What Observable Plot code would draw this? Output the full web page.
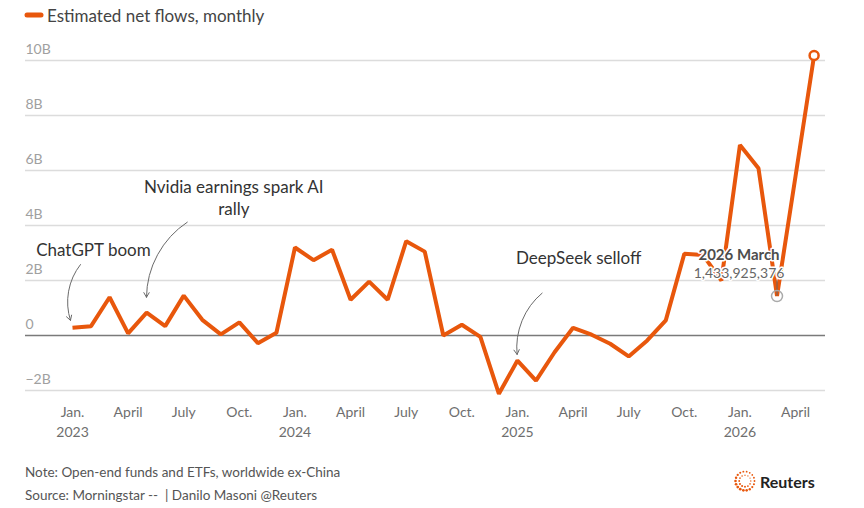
<!DOCTYPE html>
<html>
<head>
<meta charset="utf-8">
<script src="https://cdn.jsdelivr.net/npm/d3@7"></script>
<script src="https://cdn.jsdelivr.net/npm/@observablehq/plot@0.6"></script>
<style>
  body { margin: 0; background: #fff; font-family: Lato, "Noto Sans", sans-serif; }
  #legend, #chart, #footer { width: 864px; }
  svg { display: block; }
</style>
</head>
<body>
<div id="legend"></div>
<div id="chart"></div>
<div id="footer"></div>
<script>
// Monthly estimated net flows, in billions of dollars
const months = [
  "2023-01","2023-02","2023-03","2023-04","2023-05","2023-06","2023-07","2023-08","2023-09","2023-10","2023-11","2023-12",
  "2024-01","2024-02","2024-03","2024-04","2024-05","2024-06","2024-07","2024-08","2024-09","2024-10","2024-11","2024-12",
  "2025-01","2025-02","2025-03","2025-04","2025-05","2025-06","2025-07","2025-08","2025-09","2025-10","2025-11","2025-12",
  "2026-01","2026-02","2026-03","2026-04","2026-05"
];
const flows = [
  0.28, 0.34, 1.39, 0.08, 0.83, 0.34, 1.45, 0.57, 0.04, 0.48, -0.28, 0.10,
  3.20, 2.74, 3.12, 1.30, 1.96, 1.30, 3.43, 3.05, 0.00, 0.39, -0.05, -2.12,
  -0.91, -1.64, -0.61, 0.28, 0.03, -0.30, -0.76, -0.18, 0.55, 2.97, 2.93, 2.00,
  6.93, 6.08, 1.433925376, 5.80, 10.18
];

// Axis ticks
const yTicks = [-2, 0, 2, 4, 6, 8, 10];
const yTickLabels = ["\u22122B", "0", "2B", "4B", "6B", "8B", "10B"];
const xTickMonths = ["2023-01","2023-04","2023-07","2023-10","2024-01","2024-04","2024-07","2024-10",
                     "2025-01","2025-04","2025-07","2025-10","2026-01","2026-04"];
const xTickLabels = ["Jan.\n2023","April","July","Oct.","Jan.\n2024","April","July","Oct.",
                     "Jan.\n2025","April","July","Oct.","Jan.\n2026","April"];

// Highlighted month
const highlightMonth = "2026-03";

// Event annotations (x in months since Jan. 2023, y in billions)
const notes = [
  { label: "ChatGPT boom", m: 1.13, v: 3.16 },
  { label: "Nvidia earnings spark AI\nrally", m: 8.7, v: 5.05 },
  { label: "DeepSeek selloff", m: 27.3, v: 2.84 }
];
const arrows = [
  { m1: 0.43, v1: 2.58, m2: -0.11, v2: 0.55 },
  { m1: 6.19, v1: 4.12, m2: 3.99, v2: 1.39 },
  { m1: 25.33, v1: 1.54, m2: 23.98, v2: -0.69 }
];

const monthNames = ["January","February","March","April","May","June","July","August","September","October","November","December"];
const orange = "#e8570c";
const font = "Lato, 'Noto Sans', sans-serif";

const data = months.map((month, i) => ({ i, month, value: flows[i] }));
const tickIndex = xTickMonths.map(m => months.indexOf(m));
const tickLabelByIndex = new Map(tickIndex.map((t, k) => [t, xTickLabels[k]]));
const yLabelByTick = new Map(yTicks.map((t, k) => [t, yTickLabels[k]]));
const hover = data.find(d => d.month === highlightMonth);
const hoverTitle = d => { const [y, m] = d.month.split("-"); return `${y} ${monthNames[+m - 1]}`; };
const fmt = d3.format(",");

// Legend
const legend = d3.select("#legend").append("svg").attr("width", 864).attr("height", 30);
legend.append("line").attr("x1", 27).attr("x2", 41).attr("y1", 15).attr("y2", 15)
  .attr("stroke", orange).attr("stroke-width", 5).attr("stroke-linecap", "round");
legend.append("text").attr("x", 47).attr("y", 15).attr("dominant-baseline", "central")
  .attr("font-family", font).attr("font-size", 17).attr("fill", "#444")
  .text("Estimated net flows, monthly");

// Chart
const chart = Plot.plot({
  width: 864,
  height: 420,
  marginLeft: 25,
  marginRight: 39,
  marginTop: 20,
  marginBottom: 48,
  style: { fontFamily: font, background: "transparent" },
  x: { type: "linear", domain: [0, months.length - 1], range: [72, 813.6], axis: null },
  y: { domain: [-2, 10], range: [360, 30], axis: null },
  marks: [
    Plot.ruleY(yTicks.filter(d => d !== 0), { stroke: "#dcdcdc", strokeWidth: 1.5 }),
    Plot.ruleY([0], { stroke: "#7a7a7a", strokeWidth: 1.5 }),
    Plot.text(yTicks, {
      y: d => d, text: d => yLabelByTick.get(d), frameAnchor: "left", textAnchor: "start",
      dy: -11, fill: "#a0a0a0", fontSize: 14
    }),
    Plot.axisX(tickIndex, {
      tickSize: 0, tickPadding: 1, tickFormat: d => tickLabelByIndex.get(d),
      fill: "#6e6e6e", fontSize: 14, lineHeight: 1.4
    }),
    Plot.arrow(arrows, {
      x1: "m1", y1: "v1", x2: "m2", y2: "v2", bend: -28,
      stroke: "#6a6a6a", strokeWidth: 1, headLength: 8
    }),
    Plot.text(notes, { x: "m", y: "v", text: "label", fontSize: 17, fill: "#333", lineHeight: 1.3 }),
    Plot.line(data, {
      x: "i", y: "value", stroke: orange, strokeWidth: 4,
      strokeLinejoin: "miter", strokeLinecap: "butt"
    }),
    Plot.dot([data[data.length - 1]], { x: "i", y: "value", r: 4.5, fill: "white", stroke: orange, strokeWidth: 2.5 }),
    Plot.ruleX([hover], { x: "i", y1: "value", y2: d => d.value + 0.55, stroke: "#666", strokeWidth: 1 }),
    Plot.dot([hover], { x: "i", y: "value", r: 5.5, fill: "none", stroke: "#aaa", strokeWidth: 1.5 }),
    Plot.text([hover], {
      x: "i", y: "value", text: hoverTitle, dx: -38, dy: -41,
      fontSize: 15, fontWeight: "bold", fill: "#4d4d4d", stroke: "white", strokeWidth: 3
    }),
    Plot.text([hover], {
      x: "i", y: "value", text: d => fmt(Math.round(d.value * 1e9)), dx: -38, dy: -23,
      fontSize: 14, fill: "#666", stroke: "white", strokeWidth: 3
    })
  ]
});
document.getElementById("chart").append(chart);

// Footer: note, source and logo
const footer = d3.select("#footer").append("svg").attr("width", 864).attr("height", 58);
footer.append("text").attr("x", 25).attr("y", 22).attr("dominant-baseline", "central")
  .attr("font-family", font).attr("font-size", 13.5).attr("fill", "#555")
  .text("Note: Open-end funds and ETFs, worldwide ex-China");
footer.append("text").attr("x", 25).attr("y", 45).attr("dominant-baseline", "central")
  .attr("font-family", font).attr("font-size", 13.5).attr("fill", "#555")
  .style("white-space", "pre")
  .text("Source: Morningstar --  | Danilo Masoni @Reuters");

const logo = footer.append("g").attr("transform", "translate(745,31)");
const rings = [{ r: 9.5, n: 18, s: 1.15 }, { r: 5.8, n: 12, s: 0.85 }];
rings.forEach(ring => {
  d3.range(ring.n).forEach(k => {
    const a = (k / ring.n) * 2 * Math.PI;
    const grow = 0.75 + 0.45 * (1 + Math.cos(a - 2.3)) / 2;
    logo.append("circle")
      .attr("cx", ring.r * Math.cos(a)).attr("cy", ring.r * Math.sin(a))
      .attr("r", ring.s * grow).attr("fill", orange);
  });
});
footer.append("text").attr("x", 760).attr("y", 31).attr("dominant-baseline", "central")
  .attr("font-family", font).attr("font-size", 16).attr("font-weight", "bold").attr("fill", "#222")
  .text("Reuters");
</script>
</body>
</html>
